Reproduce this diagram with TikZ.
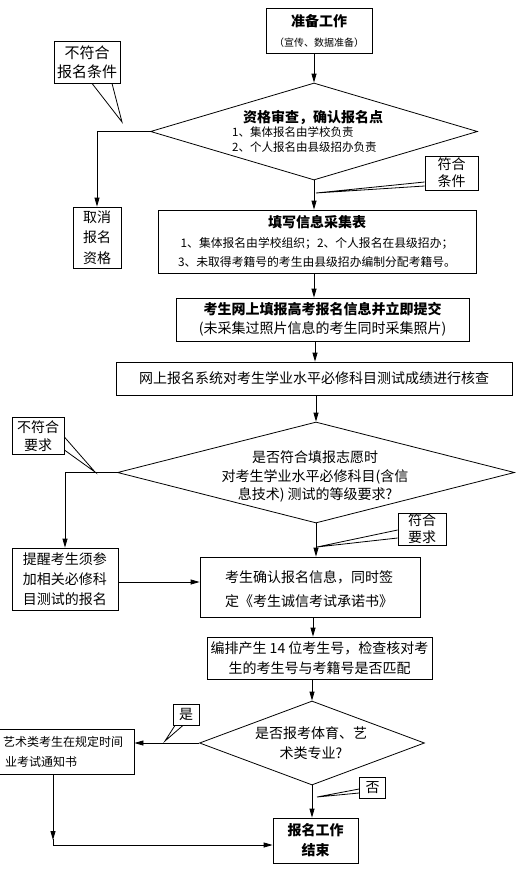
\documentclass[tikz,border=0pt]{standalone}
\usepackage{fontspec}
\setmainfont{Noto Sans CJK SC}
\usetikzlibrary{shapes.geometric,arrows.meta,calc}
\newcommand{\szbig}{\fontsize{14}{20}\selectfont}
\newcommand{\szmid}{\fontsize{11.8}{18.5}\selectfont}
\newcommand{\szsmall}{\fontsize{10}{20}\selectfont}
\tikzset{
  box/.style={draw, line width=0.8pt, inner sep=0pt, align=center},
  dia/.style={draw, diamond, line width=0.8pt, inner sep=0pt},
  arr/.style={line width=0.8pt, -{Triangle[length=9pt,width=5pt]}},
  ln/.style={line width=0.8pt},
  txt/.style={inner sep=0pt, align=center},
  callout/.style={draw, line width=0.8pt, fill=white, inner sep=0pt, align=center},
}
\begin{document}
\begin{tikzpicture}[x=1pt,y=-1pt]
\useasboundingbox (0,0) rectangle (518,870);
\clip (0,0) rectangle (518,870);

% ---- nodes ----
\node[box, minimum width=106pt, minimum height=45pt, font=\szbig] (n1) at (319,30.5)
  {{\bfseries 准备工作}\\{\szsmall （宣传、数据准备）}};

\node[dia, minimum width=327pt, minimum height=97pt] (d1) at (314,131.5) {};
\node[txt, font=\szbig\bfseries] (d1a) at (313,117) {资格审查，确认报名点};
\node[txt, font=\fontsize{11.5}{15}\selectfont, align=left, anchor=west] (d1b) at (232,139.5)
  {1、集体报名由学校负责\\2、个人报名由县级招办负责};

\node[callout, minimum width=66pt, minimum height=42pt, font=\fontsize{15}{19}\selectfont] (c1) at (87,62)
  {不符合\\报名条件};
\coordinate (c1t) at (122,122);

\node[box, minimum width=48pt, minimum height=61pt, font=\fontsize{14}{20.5}\selectfont] (x1) at (97,237.5)
  {取消\\报名\\资格};

\node[callout, minimum width=53pt, minimum height=34pt, font=\fontsize{14}{17}\selectfont] (c2) at (451.5,173)
  {符合\\条件};
\coordinate (c2t) at (316,193);

\node[box, minimum width=318pt, minimum height=63pt, font=\szmid] (b2) at (317,241.5)
  {{\szbig\bfseries 填写信息采集表}\\[1.5pt]1、集体报名由学校组织；2、个人报名在县级招办；\\3、未取得考籍号的考生由县级招办编制分配考籍号。};

\node[box, minimum width=293pt, minimum height=43pt, font=\fontsize{14}{19}\selectfont] (b3) at (322.5,319.5)
  {{\bfseries 考生网上填报高考报名信息并立即提交}\\(未采集过照片信息的考生同时采集照片)};

\node[box, minimum width=396pt, minimum height=33pt, font=\szbig] (b4) at (314,378.5)
  {网上报名系统对考生学业水平必修科目测试成绩进行核查};

\node[dia, minimum width=397pt, minimum height=101pt] (d2) at (316,472.5) {};
\node[txt, font=\fontsize{14}{18.5}\selectfont] (d2t) at (315,476.5)
  {是否符合填报志愿时\\对考生学业水平必修科目(含信\\息技术) 测试的等级要求?};

\node[callout, minimum width=52pt, minimum height=37pt, font=\fontsize{14}{18}\selectfont] (c3) at (38,436)
  {不符合\\要求};
\coordinate (c3t) at (95,472);

\node[box, minimum width=106pt, minimum height=62pt, font=\szbig] (b5) at (65,579)
  {提醒考生须参\\加相关必修科\\目测试的报名};

\node[box, minimum width=220pt, minimum height=60pt] (b6) at (310,587) {};
\node[txt, align=left, anchor=west, font=\fontsize{14}{24}\selectfont] (b6t) at (225,589)
  {考生确认报名信息，同时签\\定《考生诚信考试承诺书》};

\node[callout, minimum width=48pt, minimum height=32pt, font=\fontsize{14}{17}\selectfont] (c4) at (422,529)
  {符合\\要求};
\coordinate (c4t) at (317,547);

\node[box, minimum width=225pt, minimum height=42pt, font=\szbig] (b7) at (319.5,658)
  {编排产生 14 位考生号，检查核对考\\生的考生号与考籍号是否匹配};

\node[dia, minimum width=225pt, minimum height=84pt] (d3) at (312,743) {};
\node[txt, font=\szbig] (d3t) at (311,743) {是否报考体育、艺\\术类专业?};

\node[callout, minimum width=26pt, minimum height=21pt, font=\szbig] (c5) at (186,714.5) {是};
\coordinate (c5t) at (165,741);

\node[box, minimum width=200pt, minimum height=45pt] (b8) at (34,751.5) {};
\node[txt, anchor=west, font=\fontsize{12}{20}\selectfont] (b8a) at (3,742) {艺术类考生在规定时间};
\node[txt, anchor=west, font=\fontsize{12}{20}\selectfont] (b8b) at (5,762) {业考试通知书};

\node[callout, minimum width=26pt, minimum height=21pt, font=\szbig] (c6) at (372.5,788) {否};
\coordinate (c6t) at (317,797);

\node[box, minimum width=85pt, minimum height=45pt, font=\szbig\bfseries] (e) at (315.5,840.5)
  {报名工作\\结束};

% ---- connectors ----
\draw[arr] (d1.north |- n1.south) -- (d1.north);
\draw[arr] (d1.west) -- (d1.west -| x1.north) -- (x1.north);
\draw[arr] (d1.south) -- (d1.south |- b2.north);
\draw[arr] (b2.south -| d1.south) -- (d1.south |- b3.north);
\draw[arr] ($(b3.south -| d1.south)+(1,0)$) -- ($(b4.north -| d1.south)+(1,0)$);
\draw[arr] (b4.south -| d2.north) -- (d2.north);
\draw[arr] (d2.west) -- (d2.west -| b5.north) -- (b5.north);
\draw[arr] (d2.south) -- (d2.south |- b6.north);
\draw[arr] ($(b5.east)+(0,3)$) -- ($(b6.west)+(0,-5)$);
\draw[arr] ($(b6.south -| d3.north)+(1,0)$) -- ($(b7.north -| d3.north)+(1,0)$);
\draw[arr] (b7.south -| d3.north) -- (d3.north);
\draw[arr] (d3.west) -- (d3.west -| b8.east);
\draw[arr] (d3.south) -- (d3.south |- e.north);
\coordinate (k1) at (53,845);
\draw[arr] (b8.south -| k1) -- ($(k1)+(0,-5)$);
\draw[arr] ($(k1)+(0,-6)$) -- (k1) -- (k1 -| e.west);

% ---- callout pointers ----
\draw[ln] ($(c1.south)+(5,0)$) -- (c1t) -- ($(c1.south)+(25,0)$);
\draw[ln] ($(c2.west)+(0,9)$) -- (c2t) -- ($(c2.west)+(0,13)$);
\draw[ln] ($(c3.east)+(0,1)$) -- (c3t) -- ($(c3.east)+(0,14)$);
\draw[ln] ($(c4.west)+(0,1)$) -- (c4t) -- ($(c4.west)+(0,9)$);
\draw[ln] ($(c5.south)+(-11,0)$) -- (c5t) -- ($(c5.south)+(-3,0)$);
\draw[ln] ($(c6.west)+(0,1)$) -- (c6t) -- ($(c6.west)+(0,5)$);
\end{tikzpicture}
\end{document}
